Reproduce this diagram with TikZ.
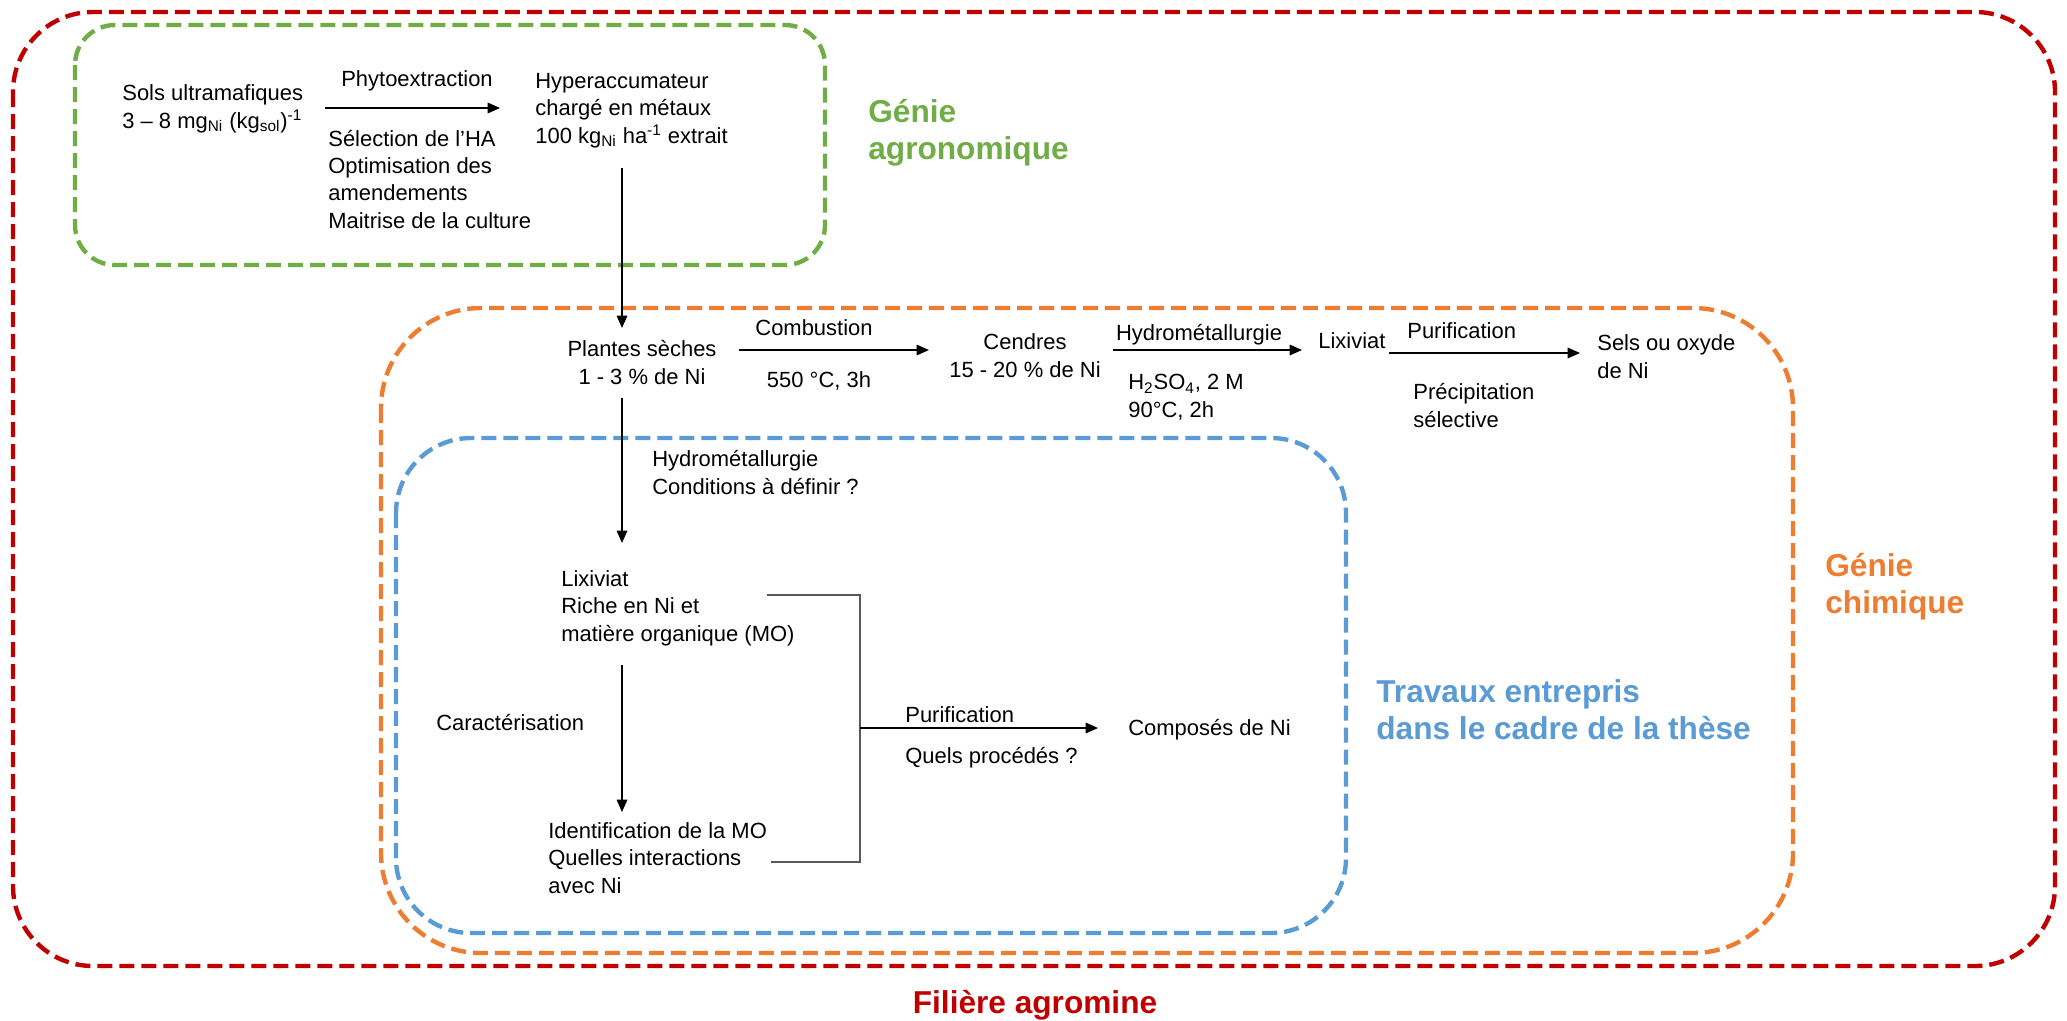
\documentclass[tikz,border=0pt]{standalone}
\usepackage{fontspec}
\setmainfont{Liberation Sans}
\usetikzlibrary{arrows.meta, positioning}

\definecolor{rougeF}{HTML}{C00000}
\definecolor{vertA}{HTML}{70AD47}
\definecolor{orangeC}{HTML}{ED7D31}
\definecolor{bleuT}{HTML}{5B9BD5}

\begin{document}
\begin{tikzpicture}[x=0.2mm, y=-0.2mm,
        txt/.style={inner sep=0pt, align=left, anchor=base west, font=\fontsize{12.5}{15.5}\selectfont},
        txtc/.style={txt, align=center, anchor=base},
        titre/.style={inner sep=0pt, align=left, anchor=base west, font=\fontsize{18}{21}\selectfont\bfseries},
        zone/.style={dash pattern=on 3mm off 1.4mm, line width=2.5pt, rounded corners=#1},
        fl/.style={-{Triangle[length=7pt,width=6pt]}, line width=0.8pt},
        crochet/.style={draw=black!65, line width=0.8pt}]
        \useasboundingbox (0,0) rectangle (2067,1020);

        % Cadres
        \draw[zone=16mm, rougeF] (13,12) rectangle (2055,966);
        \draw[zone=8mm, vertA] (75,25) rectangle (825,265);
        \draw[zone=20mm, orangeC] (381,308) rectangle (1793,953);
        \draw[zone=15mm, bleuT] (396,438) rectangle (1346,933);

        % Genie agronomique (base = derniere ligne)
        \node[txt] (sols) at (122,128) {Sols ultramafiques\\3 – 8 mg\textsubscript{Ni} (kg\textsubscript{sol})\textsuperscript{-1}};
        \node[txt] (hyper) at (535,143) {Hyperaccumateur\\chargé en métaux\\100 kg\textsubscript{Ni} ha\textsuperscript{-1} extrait};
        \node[txtc] (phyto) at (417,86) {Phytoextraction};
        \node[txt] (selec) at (328,228) {Sélection de l’HA\\Optimisation des\\amendements\\Maitrise de la culture};
        \node[titre, vertA] (agro) at (868,159) {Génie\\agronomique};
        \draw[fl] ([shift={(22,-20)}]sols.base east) -- ([shift={(-35,-35)}]hyper.base west);

        % Genie chimique
        \node[txtc] (plantes) at (642,384) {Plantes sèches\\1 - 3 \% de Ni};
        \node[txtc] (combu) at (814,335) {Combustion};
        \node[txtc] (temp) at (819,387) {550 °C, 3h};
        \node[txtc] (cendres) at (1025,377) {Cendres\\15 - 20 \% de Ni};
        \node[txtc] (hydro) at (1199,340) {Hydrométallurgie};
        \node[txt] (acide) at (1128,417) {H\textsubscript{2}SO\textsubscript{4}, 2 M\\90°C, 2h};
        \node[txt] (lixa) at (1318,348) {Lixiviat};
        \node[txt] (purifa) at (1407,338) {Purification};
        \node[txt] (precip) at (1413,427) {Précipitation\\sélective};
        \node[txt] (sels) at (1597,378) {Sels ou oxyde\\de Ni};
        \node[titre, orangeC] (chim) at (1825,613) {Génie\\chimique};
        \draw[fl] ([shift={(87,25)}]hyper.base west) -- ([shift={(-20,-56)}]plantes.base);
        \draw[fl] ([shift={(22,-34)}]plantes.base east) -- ([shift={(-20,-27)}]cendres.base west);
        \draw[fl] ([shift={(12,-27)}]cendres.base east) -- ([shift={(-16,2)}]lixa.base west);
        \draw[fl] ([shift={(3,5)}]lixa.base east) -- ([shift={(-17,-25)}]sels.base west);

        % Travaux de la these
        \node[txt] (hydrob) at (652,494) {Hydrométallurgie\\Conditions à définir ?};
        \node[txt] (lixb) at (561,641) {Lixiviat\\Riche en Ni et\\matière organique (MO)};
        \node[txt] (carac) at (436,730) {Caractérisation};
        \node[txt] (ident) at (548,893) {Identification de la MO\\Quelles interactions\\avec Ni};
        \node[txt] (purifb) at (905,722) {Purification};
        \node[txt] (quels) at (905,763) {Quels procédés ?};
        \node[txt] (compo) at (1128,735) {Composés de Ni};
        \node[titre, bleuT] (travaux) at (1376,739) {Travaux entrepris\\dans le cadre de la thèse};
        \draw[fl] ([shift={(-20,14)}]plantes.base) -- ([shift={(61,-98)}]lixb.base west);
        \draw[fl] ([shift={(61,24)}]lixb.base west) -- ([shift={(74,-81)}]ident.base west);
        \coordinate (jonction) at (860,728);
        \draw[crochet] ([shift={(-28,-46)}]lixb.base east) -| (jonction) |- ([shift={(4,-31)}]ident.base east);
        \draw[fl] (jonction) -- ([shift={(-30,-7)}]compo.base west);

        \node[titre, rougeF, anchor=base] (filiere) at (1035,1013) {Filière agromine};
    \end{tikzpicture}
\end{document}
